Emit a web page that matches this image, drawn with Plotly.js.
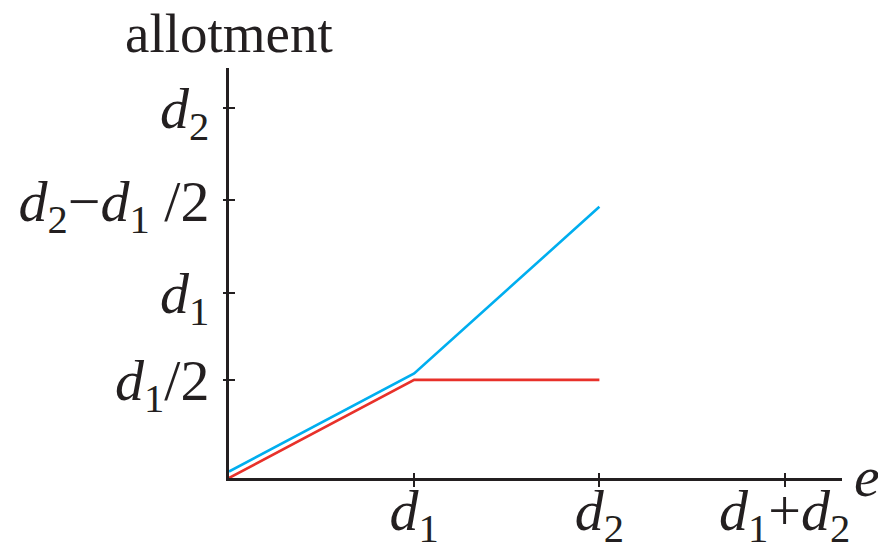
<!DOCTYPE html>
<html>
<head>
<meta charset="utf-8">
<script src="https://cdn.plot.ly/plotly-3.0.1.min.js"></script>
<style>
  html, body { margin: 0; padding: 0; background: #ffffff; }
  #chart { width: 878px; height: 547px; }
</style>
</head>
<body>
<div id="chart"></div>
<script>
// Endowment e (in units of d1) and the allotment of each claimant
const eValues = [0, 1, 2];
const claimant1 = [0, 0.53, 0.53];      // red: capped at d1/2
const claimant2 = [0.035, 0.565, 1.465]; // blue: keeps rising after d1

// Axis ticks and their symbolic labels
const xTickVals = [1, 2, 3];
const xTickText = [
  '<i>d</i><sub>1</sub>',
  '<i>d</i><sub>2</sub>',
  '<i>d</i><sub>1</sub>+<i>d</i><sub>2</sub>'
];
const yTickVals = [0.53, 1, 1.5, 2];
const yTickText = [
  '<i>d</i><sub>1</sub>/2',
  '<i>d</i><sub>1</sub>',
  '<i>d</i><sub>2</sub>\u2212<i>d</i><sub>1</sub> /2',
  '<i>d</i><sub>2</sub>'
];

const xRange = [0, 3.31];
const yRange = [0, 2.215];

const ink = '#231f20';
const serif = 'Liberation Serif, Times New Roman, serif';

const traces = [
  {
    x: eValues, y: claimant2, type: 'scatter', mode: 'lines',
    line: { color: '#00aeef', width: 2.6 }, hoverinfo: 'skip'
  },
  {
    x: eValues, y: claimant1, type: 'scatter', mode: 'lines',
    line: { color: '#e8312a', width: 2.6 }, hoverinfo: 'skip'
  },
  // carrier for the inner half of the tick marks
  { x: [], y: [], type: 'scatter', mode: 'lines', xaxis: 'x2', yaxis: 'y2',
    showlegend: false, hoverinfo: 'skip' }
];

const layout = {
  width: 878, height: 547,
  margin: { l: 229, r: 36, t: 68, b: 69 },
  paper_bgcolor: '#ffffff', plot_bgcolor: '#ffffff',
  showlegend: false,
  font: { family: serif, color: ink, size: 58 },
  xaxis: {
    range: xRange, showgrid: false, zeroline: false,
    showline: true, linecolor: ink, linewidth: 3,
    tickmode: 'array', tickvals: xTickVals, ticktext: xTickText,
    ticks: 'outside', ticklen: 6, tickwidth: 2, tickcolor: ink,
    tickfont: { family: serif, size: 58, color: ink },
    ticklabelstandoff: -27
  },
  yaxis: {
    range: yRange, showgrid: false, zeroline: false,
    showline: true, linecolor: ink, linewidth: 3,
    tickmode: 'array', tickvals: yTickVals, ticktext: yTickText,
    ticks: 'outside', ticklen: 3, tickwidth: 2, tickcolor: ink,
    tickfont: { family: serif, size: 58, color: ink },
    ticklabelstandoff: 2
  },
  xaxis2: {
    overlaying: 'x', matches: 'x', range: xRange, showgrid: false, zeroline: false,
    showline: false, tickmode: 'array', tickvals: xTickVals,
    ticks: 'inside', ticklen: 5, tickwidth: 2, tickcolor: ink, showticklabels: false
  },
  yaxis2: {
    overlaying: 'y', matches: 'y', range: yRange, showgrid: false, zeroline: false,
    showline: false, tickmode: 'array', tickvals: yTickVals,
    ticks: 'inside', ticklen: 6, tickwidth: 2, tickcolor: ink, showticklabels: false
  },
  annotations: [
    {
      text: 'allotment', xref: 'paper', yref: 'paper', x: 0, y: 1,
      xanchor: 'center', yanchor: 'bottom', yshift: 2, showarrow: false,
      font: { family: serif, size: 55, color: ink }
    },
    {
      text: '<i>e</i>', xref: 'paper', yref: 'paper', x: 1, y: 0,
      xanchor: 'left', yanchor: 'middle', xshift: 10, yshift: 2, showarrow: false,
      font: { family: serif, size: 58, color: ink }
    }
  ]
};

Plotly.newPlot('chart', traces, layout, { displayModeBar: false, staticPlot: true });
</script>
</body>
</html>
